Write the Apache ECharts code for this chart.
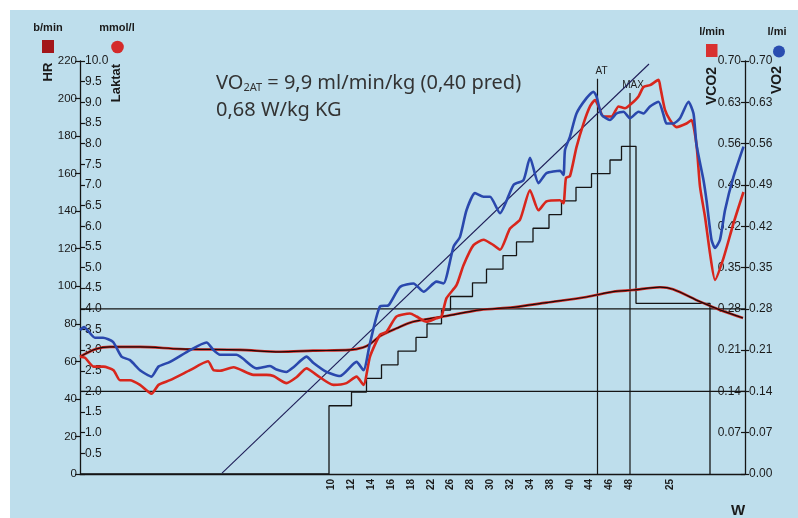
<!DOCTYPE html>
<html><head><meta charset="utf-8">
<script src="https://cdn.jsdelivr.net/npm/echarts@6/dist/echarts.min.js"></script>
<style>
html,body{margin:0;padding:0;background:#fff;}
#c{width:798px;height:518px;background:linear-gradient(#bedeec,#bedeec) 10px 10px/788px 508px no-repeat #fff;}
</style></head><body><div id="c"></div>
<script>
// ---- data (time in s) ----
const xLabelPos  = [503,543,583,623,663,703,741,781,821,860,901,941,980,1018,1058,1098,1180];
const xLabelText = ['10','12','14','16','18','22','26','28','30','32','34','38','40','44','46','48','25'];

const wTimes = [0,498,543,573,603,636,672,694,723,741,785,813,846,873,906,938,963,992,1023,1060,1083,1112,1260];
const wLoad  = [0,10,12,14,16,18,20,22,24,26,28,30,32,34,36,38,40,42,44,46,48,25,0];

const laktatLines = [4.0, 2.0];

const atLine  = [[1035,0],[1035,210.5]];
const maxLine = [[1100,0],[1100,203]];
const slopeLine = [[284,0.5],[1138,218.4]];

const hrData = [[0,62.5],[32,66.6],[60,67.7],[120,67.7],[200,66.6],[320,66.1],[400,65.1],[466,65.7],[540,66.1],[566,67.4],[580,69.2],[600,73.5],[633,77.6],[666,81.1],[733,84.2],[800,87.4],[866,88.8],[933,91.3],[1013,94.3],[1066,97.1],[1106,98.0],[1160,99.5],[1186,98.4],[1240,91.8],[1280,87.4],[1326,83.1]];

const vo2Data = [[0,0.244],[8,0.249],[30,0.231],[46,0.231],[66,0.224],[83,0.199],[100,0.193],[120,0.176],[143,0.165],[157,0.182],[180,0.190],[220,0.210],[253,0.223],[267,0.210],[280,0.202],[313,0.202],[353,0.179],[380,0.183],[393,0.177],[413,0.173],[427,0.181],[453,0.199],[467,0.188],[493,0.173],[520,0.166],[553,0.190],[567,0.176],[580,0.222],[600,0.284],[617,0.286],[640,0.317],[667,0.323],[687,0.309],[713,0.326],[727,0.323],[747,0.385],[760,0.402],[773,0.447],[790,0.476],[807,0.470],[820,0.470],[840,0.442],[867,0.490],[887,0.498],[900,0.536],[917,0.493],[933,0.510],[960,0.514],[967,0.507],[970,0.549],[980,0.572],[993,0.611],[1013,0.637],[1027,0.648],[1033,0.640],[1043,0.609],[1060,0.600],[1073,0.611],[1087,0.614],[1100,0.603],[1117,0.614],[1127,0.611],[1140,0.623],[1157,0.631],[1167,0.609],[1173,0.594],[1187,0.594],[1200,0.603],[1217,0.631],[1227,0.611],[1233,0.558],[1247,0.498],[1253,0.464],[1263,0.397],[1270,0.383],[1280,0.397],[1290,0.447],[1307,0.504],[1327,0.555]];

const vco2Data = [[0,0.199],[10,0.197],[27,0.182],[47,0.182],[67,0.176],[80,0.159],[100,0.159],[120,0.151],[143,0.136],[157,0.151],[180,0.159],[220,0.176],[256,0.191],[267,0.176],[280,0.175],[307,0.181],[347,0.168],[373,0.168],[387,0.166],[413,0.154],[433,0.164],[453,0.179],[473,0.168],[507,0.151],[533,0.154],[553,0.165],[567,0.151],[580,0.199],[600,0.236],[613,0.241],[633,0.267],[660,0.272],[673,0.267],[693,0.258],[713,0.264],[723,0.267],[733,0.298],[753,0.320],[767,0.354],[787,0.388],[807,0.397],[827,0.388],[840,0.380],[860,0.416],[880,0.431],[900,0.481],[917,0.447],[933,0.462],[960,0.464],[967,0.459],[972,0.502],[980,0.505],[993,0.554],[1007,0.594],[1020,0.623],[1030,0.634],[1037,0.623],[1047,0.606],[1063,0.606],[1077,0.623],[1090,0.620],[1103,0.628],[1117,0.640],[1127,0.656],[1140,0.659],[1157,0.668],[1161,0.654],[1170,0.617],[1180,0.600],[1193,0.588],[1213,0.594],[1223,0.600],[1233,0.558],[1240,0.487],[1250,0.436],[1260,0.374],[1270,0.329],[1287,0.366],[1307,0.425],[1327,0.478]];

// ---- chart ----
const chart = echarts.init(document.getElementById('c'), null, {renderer:'canvas'});
const AX = '#151515';
const numFont = "'Liberation Sans', Arial, sans-serif";
const wSteps = wTimes.map((t,i)=>[t,wLoad[i]]);

function markerLine(name, pts, text, off){
  return {name, type:'line', yAxisIndex:0, symbol:'circle', symbolSize:1, showSymbol:true,
    itemStyle:{color:'rgba(0,0,0,0)'},
    data:[pts[0], {value:pts[1], label:{show:true, formatter:text, position:'top', distance:2, offset:off,
      fontSize:10, color:'#222', fontFamily:numFont}}],
    lineStyle:{color:AX,width:1.2}, z:1};
}

const option = {
  animation:false,
  backgroundColor:'transparent',
  grid:{left:80,right:53,top:61,bottom:44,containLabel:false},
  xAxis:{type:'value',min:0,max:1330,
    axisLine:{show:true,lineStyle:{color:AX,width:1.3}},
    axisTick:{show:false},splitLine:{show:false},
    axisLabel:{customValues:xLabelPos,rotate:90,margin:5,fontSize:10,fontWeight:'bold',color:'#1a1a1a',fontFamily:numFont,
      formatter:v=>{const i=xLabelPos.indexOf(v);return i>=0?xLabelText[i]:'';}}
  },
  yAxis:[
    {type:'value',position:'left',offset:0,min:0,max:220,interval:20,
      axisLine:{show:true,lineStyle:{color:AX,width:1.3}},
      axisTick:{show:true,length:5,lineStyle:{color:AX,width:1.2}},
      axisLabel:{fontSize:11.5,color:'#1a1a1a',margin:3,fontFamily:numFont},splitLine:{show:false}},
    {type:'value',position:'left',offset:0,min:0,max:10,interval:0.5,
      axisLine:{show:false},
      axisTick:{show:true,inside:true,length:5,lineStyle:{color:AX,width:1.2}},
      axisLabel:{inside:true,fontSize:12,color:'#1a1a1a',margin:5,fontFamily:numFont,formatter:v=>v===0?'':v.toFixed(1)},splitLine:{show:false}},
    {type:'value',position:'right',offset:0,min:0,max:0.7,interval:0.07,
      axisLine:{show:true,lineStyle:{color:AX,width:1.3}},
      axisTick:{show:true,inside:true,length:4,lineStyle:{color:AX,width:1.2}},
      axisLabel:{inside:true,fontSize:12,color:'#1a1a1a',margin:4,fontFamily:numFont,formatter:v=>v===0?'':v.toFixed(2)},splitLine:{show:false}},
    {type:'value',position:'right',offset:0,min:0,max:0.7,interval:0.07,
      axisLine:{show:false},
      axisTick:{show:true,length:4,lineStyle:{color:AX,width:1.2}},
      axisLabel:{fontSize:12,color:'#1a1a1a',margin:4,fontFamily:numFont,formatter:v=>v.toFixed(2)},splitLine:{show:false}},
    {type:'value',show:false,min:0,max:60.5}
  ],
  series:[
    {name:'Laktat 4',type:'line',yAxisIndex:1,data:[[0,laktatLines[0]],[1330,laktatLines[0]]],symbol:'none',lineStyle:{color:AX,width:1.3},z:1},
    {name:'Laktat 2',type:'line',yAxisIndex:1,data:[[0,laktatLines[1]],[1330,laktatLines[1]]],symbol:'none',lineStyle:{color:AX,width:1.3},z:1},
    {name:'W',type:'line',yAxisIndex:4,step:'end',data:wSteps,symbol:'none',lineStyle:{color:AX,width:1.3},z:1},
    markerLine('AT', atLine, 'AT', [4,0]),
    markerLine('MAX', maxLine, 'MAX', [3,0]),
    {name:'slope',type:'line',yAxisIndex:0,data:slopeLine,symbol:'none',lineStyle:{color:'#1e1e58',width:1.1},z:2},
    {name:'HR',type:'line',yAxisIndex:0,data:hrData,symbol:'none',smooth:0.3,lineStyle:{color:'#d42a22',width:2.6},z:3},
    {name:'HR2',type:'line',yAxisIndex:0,data:hrData,symbol:'none',smooth:0.3,lineStyle:{color:'#1a0a0a',width:1.2},z:3},
    {name:'VCO2',type:'line',yAxisIndex:2,data:vco2Data,symbol:'none',smooth:0.2,lineStyle:{color:'#d8261c',width:2.6},z:4},
    {name:'VO2',type:'line',yAxisIndex:3,data:vo2Data,symbol:'none',smooth:0.2,lineStyle:{color:'#2a48ad',width:2.6},z:5}
  ],
  graphic:[
    {type:'text',x:48,y:28,style:{text:'b/min',fontSize:11,fontWeight:'bold',fill:'#1a1a1a',fontFamily:numFont,align:'center',verticalAlign:'middle'}},
    {type:'text',x:117,y:28,style:{text:'mmol/l',fontSize:11,fontWeight:'bold',fill:'#1a1a1a',fontFamily:numFont,align:'center',verticalAlign:'middle'}},
    {type:'rect',shape:{x:42,y:40,width:12,height:13},style:{fill:'#a3161a'}},
    {type:'circle',shape:{cx:117.5,cy:47,r:6.3},style:{fill:'#d42a2a'}},
    {type:'text',x:48,y:72,rotation:Math.PI/2,style:{text:'HR',fontSize:13,fontWeight:'bold',fill:'#1a1a1a',fontFamily:numFont,align:'center',verticalAlign:'middle'}},
    {type:'text',x:116.5,y:83,rotation:Math.PI/2,style:{text:'Laktat',fontSize:13,fontWeight:'bold',fill:'#1a1a1a',fontFamily:numFont,align:'center',verticalAlign:'middle'}},
    {type:'text',x:712,y:32,style:{text:'l/min',fontSize:11,fontWeight:'bold',fill:'#1a1a1a',fontFamily:numFont,align:'center',verticalAlign:'middle'}},
    {type:'text',x:777,y:32,style:{text:'l/mi',fontSize:11,fontWeight:'bold',fill:'#1a1a1a',fontFamily:numFont,align:'center',verticalAlign:'middle'}},
    {type:'rect',shape:{x:706,y:44,width:11.5,height:13},style:{fill:'#d93030'}},
    {type:'circle',shape:{cx:779,cy:51.5,r:6},style:{fill:'#2a4db0'}},
    {type:'text',x:712.5,y:86,rotation:Math.PI/2,style:{text:'VCO2',fontSize:14,fontWeight:'bold',fill:'#1a1a1a',fontFamily:numFont,align:'center',verticalAlign:'middle'}},
    {type:'text',x:777.5,y:80,rotation:Math.PI/2,style:{text:'VO2',fontSize:14,fontWeight:'bold',fill:'#1a1a1a',fontFamily:numFont,align:'center',verticalAlign:'middle'}},
    {type:'text',x:738,y:511,style:{text:'W',fontSize:15,fontWeight:'bold',fill:'#1a1a1a',fontFamily:numFont,align:'center',verticalAlign:'middle'}},
    {type:'text',x:216,y:68,style:{text:'{a|VO}{s|2AT}{a| = 9,9 ml/min/kg (0,40 pred)}',
      rich:{a:{fontSize:20,fontFamily:"'Noto Sans', sans-serif",fill:'#333',lineHeight:25,verticalAlign:'bottom'},
            s:{fontSize:11,fontFamily:"'Noto Sans', sans-serif",fill:'#333',lineHeight:11,verticalAlign:'bottom'}},
      align:'left',verticalAlign:'top'}},
    {type:'text',x:216,y:98,style:{text:'0,68 W/kg KG',fontSize:20,fontFamily:"'Noto Sans', sans-serif",fill:'#333',lineHeight:25,align:'left',verticalAlign:'top'}}
  ]
};
chart.setOption(option);
</script></body></html>
